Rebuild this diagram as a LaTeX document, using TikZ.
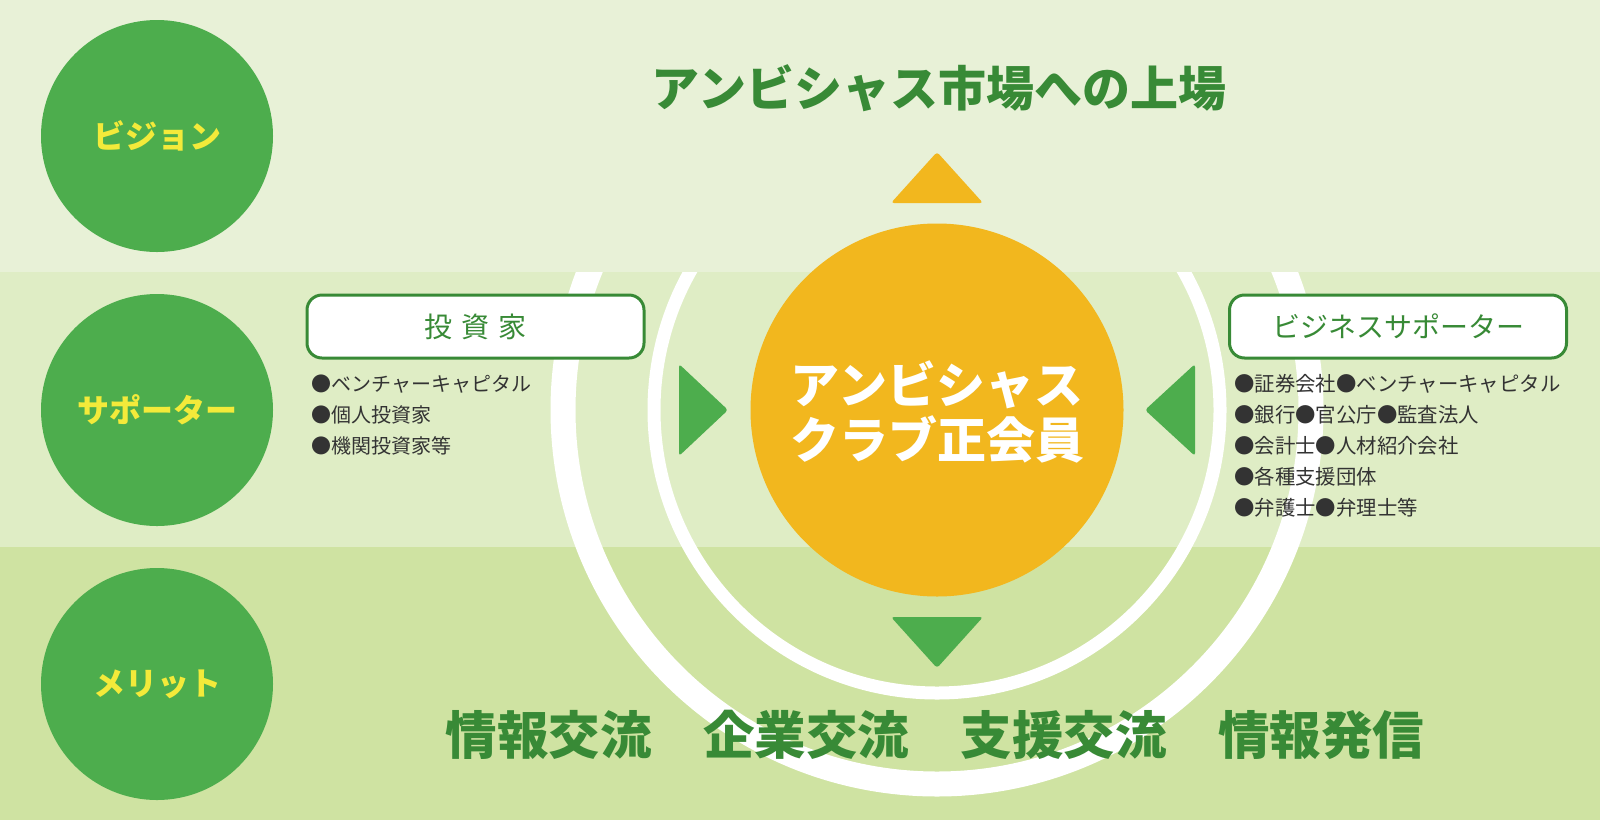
\documentclass[tikz,border=0pt]{standalone}
\usepackage{fontspec}
\setmainfont{Noto Sans CJK JP}
\definecolor{bandtop}{HTML}{E8F1D7}
\definecolor{bandmid}{HTML}{DFEDC5}
\definecolor{bandbot}{HTML}{CFE3A2}
\definecolor{greenc}{HTML}{4DAD4D}
\definecolor{darkgreen}{HTML}{388A36}
\definecolor{yellowt}{HTML}{F3EA3A}
\definecolor{orangec}{HTML}{F2B71E}
\definecolor{textgray}{HTML}{333333}
\tikzset{
  rowcircle/.style={circle, fill=greenc, minimum size=232pt, inner sep=0pt, text=yellowt, font=\fontsize{32}{36}\selectfont\bfseries},
  groupbox/.style={draw=darkgreen, line width=3pt, fill=white, rounded corners=15pt, minimum width=337pt, minimum height=63pt, inner sep=0pt, text=darkgreen, font=\fontsize{28}{32}\selectfont},
  listtext/.style={anchor=west, align=left, inner sep=0pt, text=textgray},
  bigtitle/.style={text=darkgreen, inner sep=0pt, font=\fontsize{48}{52}\selectfont\bfseries},
  tri/.style={rounded corners=3pt}
}
\begin{document}
\begin{tikzpicture}[x=1pt,y=-1pt]
\useasboundingbox (0,0) rectangle (1600,820);
% bands
\fill[bandmid] (0,272) rectangle (1600,547);
\fill[bandbot] (0,547) rectangle (1600,820);
% white rings
\draw[white, line width=25pt] (937,410) circle[radius=374pt];
\draw[white, line width=13pt] (937,410) circle[radius=283pt];
\fill[bandtop] (0,0) rectangle (1600,272);
% left row circles
\node[rowcircle] (vision) at (157,136) {ビジョン};
\node[rowcircle] (supporter) at (157,410) {サポーター};
\node[rowcircle] (merit) at (157,684) {メリット};
% title
\node[bigtitle] (title) at (939,88) {アンビシャス市場への上場};
% central circle
\node[circle, fill=orangec, minimum size=373pt, inner sep=0pt] (core) at (937,410) {};
\node[text=white, align=center, inner sep=0pt,
      font=\fontsize{49}{55}\selectfont\bfseries] (corelabel) at (937,412) {アンビシャス\\クラブ正会員};
% arrows
\fill[orangec, tri] (937,152) -- (983,203) -- (891,203) -- cycle;
\fill[greenc, tri] (891,617) -- (983,617) -- (937,668) -- cycle;
\fill[greenc, tri] (679,364) -- (728,410) -- (679,456) -- cycle;
\fill[greenc, tri] (1195,364) -- (1145,410) -- (1195,456) -- cycle;
% boxes
\node[groupbox] (investor) at (475.5,326.5) {投\hspace{9pt}資\hspace{9pt}家};
\node[groupbox] (business) at (1398,326.5) {ビジネスサポーター};
% lists
\node[listtext, font=\fontsize{20}{31}\selectfont] (invlist) at (311,415)
  {●ベンチャーキャピタル\\●個人投資家\\●機関投資家等};
\node[listtext, font=\fontsize{20.4}{31}\selectfont] (buslist) at (1234,446)
  {●証券会社●ベンチャーキャピタル\\●銀行●官公庁●監査法人\\●会計士●人材紹介会社\\●各種支援団体\\●弁護士●弁理士等};
% merits
\node[text=darkgreen, inner sep=0pt, font=\fontsize{51.5}{55}\selectfont\bfseries] (merits) at (935,735)
  {情報交流　企業交流　支援交流　情報発信};
\end{tikzpicture}
\end{document}
